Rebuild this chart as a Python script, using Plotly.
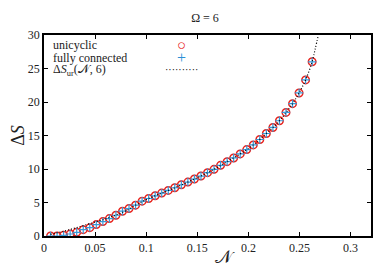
import plotly.graph_objects as go

# N values (x) of the computed points
N_vals = [0.0064, 0.0128, 0.0192, 0.0256, 0.0320, 0.0384, 0.0448, 0.0512, 0.0576, 0.0640,
          0.0704, 0.0768, 0.0832, 0.0896, 0.0960, 0.1024, 0.1088, 0.1152, 0.1216, 0.1280,
          0.1344, 0.1408, 0.1472, 0.1536, 0.1600, 0.1664, 0.1728, 0.1792, 0.1856, 0.1920,
          0.1984, 0.2048, 0.2112, 0.2176, 0.2240, 0.2304, 0.2368, 0.2432, 0.2496, 0.2560,
          0.2624]
dS_unicyclic = [0.0, 0.0, 0.1, 0.3, 0.55, 0.95, 1.25, 1.7, 2.15, 2.6,
                3.1, 3.7, 4.1, 4.6, 5.2, 5.6, 6.0, 6.4, 6.8, 7.2,
                7.65, 8.05, 8.5, 8.95, 9.45, 9.95, 10.55, 11.1, 11.65, 12.25,
                12.9, 13.6, 14.4, 15.3, 16.2, 17.2, 18.45, 19.75, 21.35, 23.3,
                26.0]
dS_fully = [0.0, 0.0, 0.1, 0.3, 0.55, 0.95, 1.25, 1.7, 2.15, 2.6,
            3.1, 3.7, 4.1, 4.6, 5.2, 5.6, 6.0, 6.4, 6.8, 7.2,
            7.65, 8.05, 8.5, 8.95, 9.45, 9.95, 10.55, 11.1, 11.65, 12.25,
            12.9, 13.6, 14.4, 15.3, 16.2, 17.2, 18.45, 19.75, 21.35, 23.3,
            26.0]
# Theoretical curve values
N_theory = [0.0064, 0.02, 0.033, 0.045, 0.058, 0.07, 0.08, 0.0896, 0.1024, 0.1152,
            0.128, 0.1408, 0.1536, 0.1664, 0.1792, 0.192, 0.2048, 0.2176, 0.2304,
            0.2432, 0.2496, 0.256, 0.2624, 0.2655, 0.2685]
dS_theory = [0.25, 0.75, 1.3, 1.85, 2.45, 3.1, 3.75, 4.6, 5.6, 6.4,
             7.2, 8.05, 8.95, 9.95, 11.1, 12.25, 13.6, 15.3, 17.2,
             19.75, 21.35, 23.3, 26.0, 28.0, 30.0]

x_ticks = [0, 0.05, 0.1, 0.15, 0.2, 0.25, 0.3]
y_ticks = [0, 5, 10, 15, 20, 25, 30]

legend_texts = ["unicyclic", "fully connected", "Δ<i>S</i><sub>ur</sub>(𝒩, 6)"]
legend_symbols = ["○", "+", "··········"]
legend_colors = ["#e8201a", "#2a8fd6", "#000000"]
legend_sizes = [15, 16, 10]

FONT = "Liberation Serif"
TXT = "#222"

fig = go.Figure()
fig.add_trace(go.Scatter(x=N_vals, y=dS_unicyclic, mode="markers", name="unicyclic",
                         marker=dict(symbol="circle-open", size=7.5, color="#e8201a",
                                     line=dict(width=1.5, color="#e8201a"))))
fig.add_trace(go.Scatter(x=N_vals, y=dS_fully, mode="markers", name="fully connected",
                         marker=dict(symbol="cross-thin-open", size=6, color="#3a9ad9",
                                     line=dict(width=1.2, color="#3a9ad9"))))
fig.add_trace(go.Scatter(x=N_theory, y=dS_theory, mode="lines", name="theory",
                         line=dict(color="black", width=1.2, dash="1px,2px", shape="spline")))

axis_common = dict(showline=True, linecolor="black", linewidth=1.5, mirror="ticks",
                   ticks="inside", ticklen=4, tickcolor="black", tickwidth=1,
                   showgrid=False, zeroline=False, automargin=False,
                   tickfont=dict(family=FONT, size=12, color=TXT))

fig.update_layout(
    width=384, height=267,
    margin=dict(l=36, r=21, t=27, b=39, autoexpand=False),
    plot_bgcolor="white", paper_bgcolor="white",
    font=dict(family=FONT, color=TXT),
    title=dict(text="Ω = 6", x=0.513, xanchor="center", y=0.964, yanchor="middle",
               font=dict(family=FONT, size=12, color=TXT)),
    xaxis=dict(range=[0, 0.32], tickvals=x_ticks,
               ticktext=[str(v) for v in x_ticks], **axis_common),
    yaxis=dict(range=[0, 30], tickvals=y_ticks,
               ticktext=[str(v) for v in y_ticks],
               title=dict(text="Δ<i>S</i>", font=dict(family=FONT, size=18, color=TXT), standoff=6),
               **axis_common),
    showlegend=False,
)

# x-axis title as annotation
fig.add_annotation(text="𝒩", xref="paper", yref="paper", x=0.553, y=-0.104,
                   xanchor="center", yanchor="middle", showarrow=False,
                   font=dict(family=FONT, size=18, color=TXT))

for i, (t, s, c, fs) in enumerate(zip(legend_texts, legend_symbols, legend_colors, legend_sizes)):
    yy = 0.95 - i * 0.062
    fig.add_annotation(text=t, xref="paper", yref="paper", x=0.02, y=yy,
                       xanchor="left", yanchor="middle", showarrow=False,
                       font=dict(family=FONT, size=12, color=TXT))
    fig.add_annotation(text=s, xref="paper", yref="paper", x=0.42, y=yy,
                       xanchor="center", yanchor="middle", showarrow=False,
                       font=dict(family=FONT, size=fs, color=c))

fig.write_html("out.html")
